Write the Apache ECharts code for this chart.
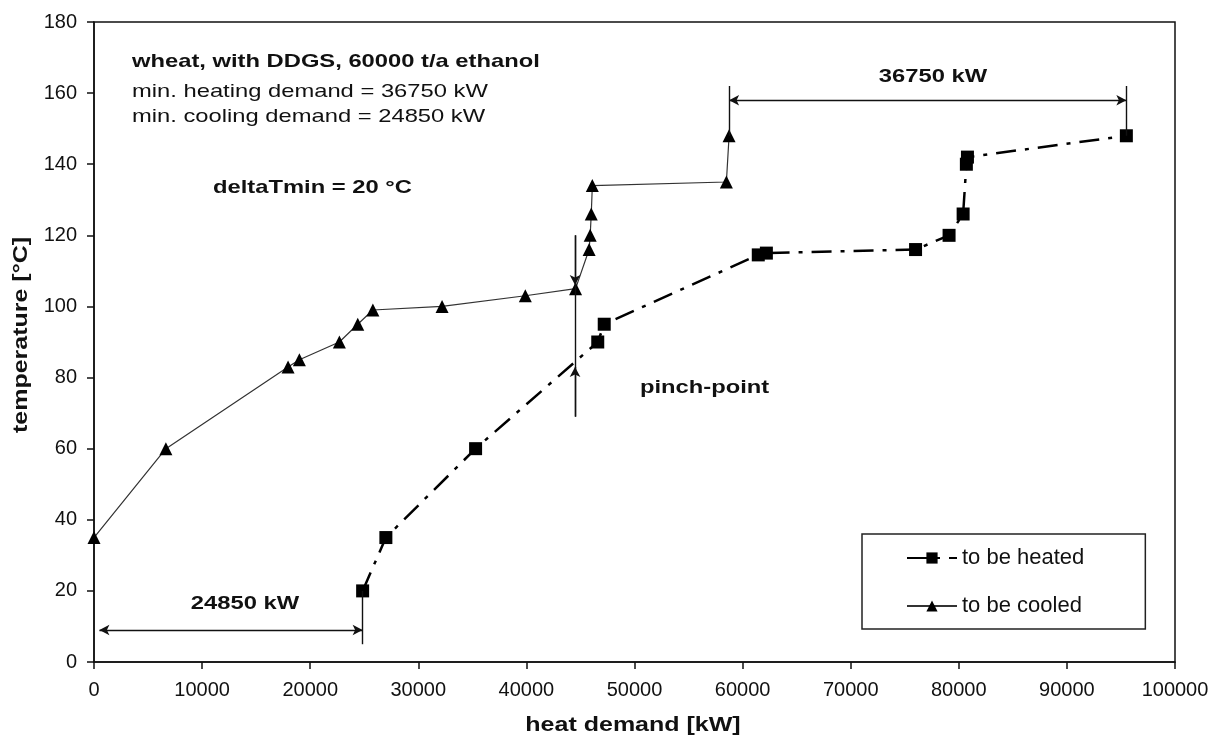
<!DOCTYPE html>
<html>
<head>
<meta charset="utf-8">
<script src="https://cdn.jsdelivr.net/npm/echarts@6/dist/echarts.min.js"></script>
<style>
  html, body { margin: 0; padding: 0; background: #fff; }
  #chart { width: 1226px; height: 740px; }
</style>
</head>
<body>
<div id="chart"></div>
<script>
// composite curves
const heatedX = [24850, 27000, 35300, 46600, 47200, 61450, 62200, 76000, 79100, 80400, 80700, 80800, 95500]
const heatedT = [20, 35, 60, 90, 95, 114.5, 115, 116, 120, 126, 140, 142, 148]
const cooledX = [0, 6650, 17950, 19000, 22700, 24400, 25800, 32200, 39900, 44550, 45800, 45900, 46000, 46100, 58500, 58750]
const cooledT = [35, 60, 83, 85, 90, 95, 99, 100, 103, 105, 116, 120, 126, 134, 135, 148]

// annotation lines (data coords)
const hotUtilY = 158
const hotUtilX = [58750, 95500]
const hotUtilTicks = [[148, 162], [148, 162]]
const coldUtilY = 9
const coldUtilX = [500, 24850]
const coldUtilTick = [5, 20]
const pinchX = 44500
const pinchRange = [69, 120]
const pinchTips = [106, 83]

const FONT = "'Liberation Sans', Arial, sans-serif"
const SX = 1.25

const toPairs = (xs, ys) => xs.map((x, i) => [x, ys[i]])

const chart = echarts.init(document.getElementById('chart'))

const seg = (a, b, endSym) => [
    { coord: a, symbol: 'none' },
    { coord: b, symbol: endSym }
]

const annotLines = [
    // heating demand arrow
    [{ coord: [hotUtilX[0], hotUtilY], symbol: 'arrow' }, { coord: [hotUtilX[1], hotUtilY], symbol: 'arrow' }],
    seg([hotUtilX[0], hotUtilTicks[0][0]], [hotUtilX[0], hotUtilTicks[0][1]], 'none'),
    seg([hotUtilX[1], hotUtilTicks[1][0]], [hotUtilX[1], hotUtilTicks[1][1]], 'none'),
    // cooling demand arrow
    [{ coord: [coldUtilX[0], coldUtilY], symbol: 'arrow' }, { coord: [coldUtilX[1], coldUtilY], symbol: 'arrow' }],
    seg([coldUtilX[1], coldUtilTick[0]], [coldUtilX[1], coldUtilTick[1]], 'none'),
    // pinch marker
    seg([pinchX, pinchRange[0]], [pinchX, pinchRange[1]], 'none'),
    seg([pinchX, pinchRange[1]], [pinchX, pinchTips[0]], 'arrow'),
    seg([pinchX, pinchRange[0]], [pinchX, pinchTips[1]], 'arrow')
]

const txt = (text, x, y, opts) => ({
    type: 'text',
    x: x,
    y: y,
    scaleX: SX,
    rotation: (opts && opts.rotation) || 0,
    silent: true,
    style: {
        text: text,
        font: ((opts && opts.bold) ? 'bold ' : '') + ((opts && opts.size) || 19) + 'px ' + FONT,
        fill: '#111',
        textAlign: (opts && opts.align) || 'left',
        textVerticalAlign: 'middle'
    }
})

const option = {
    animation: false,
    backgroundColor: '#fff',
    grid: {
        left: 94,
        right: 51,
        top: 22,
        bottom: 78,
        containLabel: false,
        outerBoundsMode: 'none',
        show: true,
        borderColor: '#111',
        borderWidth: 1.5
    },
    xAxis: {
        type: 'value',
        min: 0,
        max: 100000,
        interval: 10000,
        splitLine: { show: false },
        axisLine: { onZero: false, lineStyle: { color: '#111', width: 1.5 } },
        axisTick: { length: 7, lineStyle: { color: '#111', width: 1.5 } },
        axisLabel: {
            color: '#111',
            fontFamily: FONT,
            fontSize: 20,
            margin: 18,
            formatter: (v) => String(v)
        }
    },
    yAxis: {
        type: 'value',
        min: 0,
        max: 180,
        interval: 20,
        splitLine: { show: false },
        axisLine: { onZero: false, lineStyle: { color: '#111', width: 1.5 } },
        axisTick: { length: 7, lineStyle: { color: '#111', width: 1.5 } },
        axisLabel: {
            color: '#111',
            fontFamily: FONT,
            fontSize: 20,
            margin: 17,
            formatter: (v) => String(v)
        }
    },
    legend: {
        orient: 'vertical',
        left: 862,
        top: 534,
        data: ['to be heated', 'to be cooled'],
        itemWidth: 50,
        itemHeight: 14,
        itemGap: 26,
        padding: [13, 61, 12, 44],
        borderColor: '#222',
        borderWidth: 1.5,
        textStyle: { color: '#111', fontFamily: FONT, fontSize: 22 }
    },
    series: [
        {
            name: 'to be heated',
            type: 'line',
            data: toPairs(heatedX, heatedT),
            symbol: 'rect',
            symbolSize: 13,
            itemStyle: { color: '#000' },
            lineStyle: { color: '#000', width: 2.5, type: [20, 9, 4, 9] },
            z: 3
        },
        {
            name: 'to be cooled',
            type: 'line',
            data: toPairs(cooledX, cooledT),
            symbol: 'triangle',
            symbolSize: 13,
            itemStyle: { color: '#000' },
            lineStyle: { color: '#333', width: 1.2 },
            z: 3
        },
        {
            name: 'annotations',
            type: 'line',
            data: [],
            silent: true,
            markLine: {
                silent: true,
                symbolSize: [8, 10],
                label: { show: false },
                lineStyle: { color: '#111', width: 1.4, type: 'solid' },
                emphasis: { disabled: true },
                data: annotLines
            }
        }
    ],
    graphic: [
        txt('wheat, with DDGS, 60000 t/a ethanol', 132, 62, { bold: true }),
        txt('min. heating demand = 36750 kW', 132, 92),
        txt('min. cooling demand = 24850 kW', 132, 117),
        txt('deltaTmin = 20 °C', 213, 188, { bold: true }),
        txt('36750 kW', 933, 77, { bold: true, align: 'center' }),
        txt('24850 kW', 245, 604, { bold: true, align: 'center' }),
        txt('pinch-point', 640, 388, { bold: true }),
        txt('heat demand [kW]', 633, 725, { bold: true, align: 'center', size: 20 }),
        txt('temperature [°C]', 21, 335, { bold: true, align: 'center', rotation: Math.PI / 2, size: 20 })
    ]
}

chart.setOption(option)
</script>
</body>
</html>
